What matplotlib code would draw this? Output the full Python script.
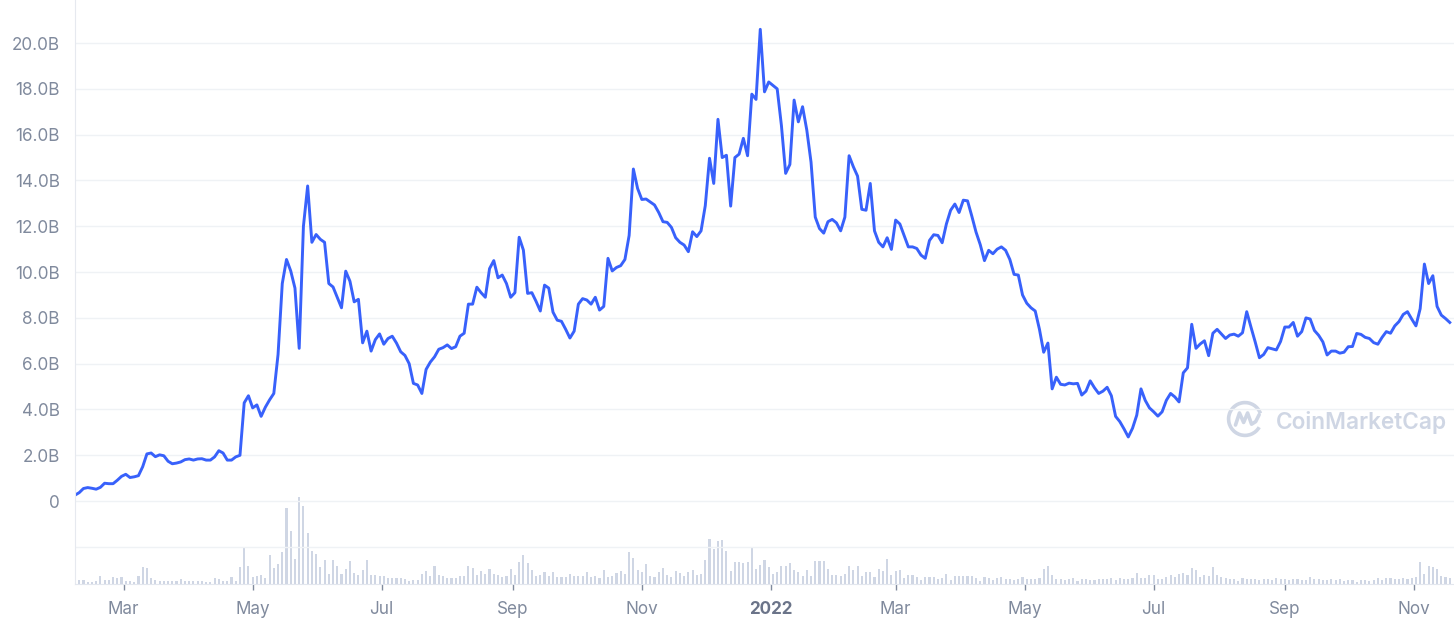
import numpy as np
import pandas as pd
import matplotlib
matplotlib.use("Agg")
import matplotlib.pyplot as plt
from matplotlib.patches import Arc

# market cap in billions USD, one value every 2 days from 2021-02-06
start_date = "2021-02-06"
market_cap = [
    0.26, 0.37, 0.55, 0.59, 0.56, 0.52, 0.60, 0.78, 0.76, 0.76,
    0.91, 1.08, 1.17, 1.03, 1.06, 1.11, 1.50, 2.06, 2.10, 1.94,
    2.02, 1.98, 1.74, 1.63, 1.66, 1.71, 1.81, 1.84, 1.79, 1.84,
    1.85, 1.79, 1.79, 1.93, 2.20, 2.10, 1.79, 1.79, 1.93, 2.00,
    4.29, 4.60, 4.07, 4.20, 3.70, 4.10, 4.42, 4.70, 6.40, 9.50,
    10.55, 10.05, 9.30, 6.67, 12.00, 13.76, 11.30, 11.64, 11.43, 11.30,
    9.50, 9.35, 8.90, 8.44, 10.04, 9.60, 8.70, 8.81, 6.91, 7.42,
    6.55, 7.05, 7.30, 6.85, 7.10, 7.20, 6.90, 6.52, 6.36, 6.00,
    5.14, 5.07, 4.70, 5.75, 6.07, 6.30, 6.63, 6.70, 6.82, 6.66,
    6.74, 7.20, 7.33, 8.60, 8.60, 9.34, 9.10, 8.90, 10.15, 10.50,
    9.75, 9.87, 9.50, 8.90, 9.10, 11.52, 10.96, 9.07, 9.10, 8.72,
    8.30, 9.43, 9.30, 8.25, 7.90, 7.85, 7.50, 7.12, 7.42, 8.60,
    8.84, 8.78, 8.60, 8.90, 8.34, 8.50, 10.60, 10.05, 10.20, 10.28,
    10.55, 11.60, 14.50, 13.65, 13.17, 13.19, 13.06, 12.93, 12.60, 12.20,
    12.17, 11.95, 11.50, 11.30, 11.18, 10.89, 11.76, 11.55, 11.80, 12.90,
    14.97, 13.87, 16.67, 15.00, 15.10, 12.88, 15.00, 15.15, 15.84, 15.08,
    17.77, 17.54, 20.60, 17.87, 18.30, 18.15, 18.00, 16.40, 14.31, 14.70,
    17.51, 16.56, 17.22, 16.20, 14.80, 12.40, 11.90, 11.70, 12.20, 12.30,
    12.15, 11.80, 12.40, 15.08, 14.60, 14.19, 12.74, 12.70, 13.87, 11.80,
    11.30, 11.10, 11.50, 10.99, 12.27, 12.10, 11.60, 11.10, 11.10, 11.03,
    10.74, 10.60, 11.38, 11.63, 11.60, 11.28, 12.10, 12.70, 12.97, 12.60,
    13.14, 13.11, 12.45, 11.75, 11.20, 10.50, 10.95, 10.80, 11.00, 11.10,
    10.95, 10.55, 9.90, 9.87, 9.00, 8.64, 8.44, 8.30, 7.50, 6.50,
    6.90, 4.90, 5.41, 5.10, 5.07, 5.15, 5.12, 5.14, 4.63, 4.80,
    5.25, 4.95, 4.70, 4.80, 4.97, 4.60, 3.70, 3.47, 3.15, 2.80,
    3.18, 3.75, 4.90, 4.40, 4.07, 3.90, 3.71, 3.90, 4.40, 4.70,
    4.55, 4.33, 5.60, 5.82, 7.72, 6.67, 6.86, 7.00, 6.35, 7.33,
    7.50, 7.30, 7.10, 7.25, 7.29, 7.20, 7.35, 8.27, 7.60, 6.95,
    6.26, 6.40, 6.70, 6.65, 6.60, 6.97, 7.60, 7.60, 7.80, 7.20,
    7.40, 8.00, 7.95, 7.45, 7.24, 6.95, 6.38, 6.55, 6.55, 6.46,
    6.50, 6.74, 6.75, 7.32, 7.28, 7.15, 7.10, 6.92, 6.85, 7.15,
    7.40, 7.33, 7.65, 7.84, 8.15, 8.27, 7.95, 7.65, 8.40, 10.35,
    9.50, 9.84, 8.50, 8.12, 7.97, 7.80,
]

# 24h volume, relative units, same dates
volume = [
    2.7, 3.7, 3.7, 2, 2, 3, 8.3, 3.7, 4.3, 7,
    6.3, 7.3, 3, 2.7, 2.3, 7.7, 17, 16, 6, 4.3,
    3.3, 3.3, 3.3, 3, 3, 5.3, 3, 3, 3, 3.3,
    3, 2.3, 2.3, 6, 5, 3.3, 3.3, 7, 2.7, 17,
    37, 18, 7.3, 8.3, 9, 6, 28.7, 16.3, 20.3, 32,
    76, 53, 25, 87, 78, 51, 33, 30, 17, 24,
    10, 24, 18, 10, 15, 23, 11, 9, 14, 24,
    9, 8.7, 7.7, 8, 5.7, 5.7, 5.7, 6, 5.3, 3.3,
    4, 4, 10.3, 13.3, 7.7, 18.3, 9.3, 7.7, 6.3, 6,
    6, 7.7, 8.3, 17.7, 16, 9.3, 12.7, 10, 15, 10,
    9.3, 7, 8.3, 15.3, 9.3, 22, 28.7, 21, 14.3, 8.3,
    9.3, 12, 8.3, 12, 7, 7, 7, 10, 8.3, 8.3,
    8.3, 12, 7, 7.7, 6, 13.7, 7.3, 8.3, 11, 12.7,
    10, 32.3, 26, 14, 12.3, 20, 7.7, 6.7, 12.3, 16,
    9, 6.7, 12.7, 11, 8, 11.7, 14.3, 9.3, 10.3, 24.3,
    45, 35.3, 42.7, 44, 33.3, 13.3, 22.3, 22.3, 21, 22.3,
    36.3, 15, 19, 24.3, 16.7, 10, 12.3, 17.7, 18.3, 21,
    13.7, 12.3, 7.7, 14.3, 8.3, 23.3, 23.3, 22.7, 15, 9.3,
    9.3, 8.3, 9.7, 17.7, 14.3, 17.7, 7.7, 12, 11.7, 7,
    15, 12.7, 25.3, 9, 13.3, 13.7, 5.7, 9.3, 9.3, 7,
    4.3, 6.7, 6.7, 6.7, 5.3, 6, 9.7, 4.3, 8.3, 8.3,
    7.7, 7.7, 7.7, 5.7, 3.3, 7, 5.7, 3.7, 5.7, 6.7,
    5, 5, 4, 5, 7, 5, 5, 5, 6, 15,
    18, 9, 5, 5, 4, 5, 6, 3, 5, 5,
    4, 4, 4.5, 5, 5, 6, 4, 6, 4.5, 5,
    6, 11, 6, 6, 9, 9, 4.5, 5, 7, 9,
    7, 10, 11, 9, 16, 14, 7, 8.5, 8, 17,
    9, 7, 6, 4.5, 5.3, 3, 5.7, 5.3, 5, 5,
    4, 5, 4.5, 3.5, 5.7, 5, 4.5, 4, 4.5, 4.5,
    4, 3.5, 7, 5, 4.5, 4, 4, 4.5, 4, 4.5,
    3.3, 4.3, 3.7, 2.3, 3.7, 3.7, 3, 4.3, 6, 4.3,
    5.7, 5.7, 5, 5, 5.7, 5, 6, 7, 21.7, 10,
    17.7, 16.7, 15, 8, 6.7, 5.5,
]

tick_dates = ["2021-03-01", "2021-05-01", "2021-07-01", "2021-09-01", "2021-11-01",
              "2022-01-01", "2022-03-01", "2022-05-01", "2022-07-01", "2022-09-01",
              "2022-11-01"]
tick_labels = ["Mar", "May", "Jul", "Sep", "Nov", "2022", "Mar", "May", "Jul", "Sep", "Nov"]

y_ticks = [-2, 0, 2, 4, 6, 8, 10, 12, 14, 16, 18, 20]
y_labels = ["", "0", "2.0B", "4.0B", "6.0B", "8.0B", "10.0B", "12.0B", "14.0B",
            "16.0B", "18.0B", "20.0B"]

dates = pd.date_range(start_date, periods=len(market_cap), freq="2D")

plt.rcParams["font.family"] = ["Inter", "DejaVu Sans"]
LINE = "#3861fb"
GREY = "#808a9d"
GRID = "#eff2f5"
BAR = "#cfd6e4"

W, H = 1454, 626
fig = plt.figure(figsize=(W / 100, H / 100), dpi=100)
ax = fig.add_axes([75 / W, 42 / H, 1 - 75 / W, 1 - 42 / H])
ax2 = ax.twinx()

# volume bars behind the line
ax2.bar(dates, volume, width=1.0, color=BAR, linewidth=0)
ax2.set_ylim(0, max(volume) * 6.7)
ax2.set_yticks([])
for s in ax2.spines.values():
    s.set_visible(False)

ax.set_zorder(ax2.get_zorder() + 1)
ax.patch.set_visible(False)

ax.plot(dates, market_cap, color=LINE, lw=2.1, solid_joinstyle="round")

ax.set_ylim(-3.62, 21.88)
ax.set_xlim(pd.Timestamp(start_date), pd.Timestamp(start_date) + pd.Timedelta(days=652))
ax.set_yticks(y_ticks)
ax.set_yticklabels(y_labels)
ax.grid(axis="y", color=GRID, lw=1)
ax.tick_params(axis="y", length=0, pad=11, labelsize=12.3, labelcolor=GREY)

ax.set_xticks(pd.to_datetime(tick_dates))
ax.set_xticklabels(tick_labels)
ax.tick_params(axis="x", length=4, width=1, color=GREY, pad=8, labelsize=12.3,
               labelcolor=GREY)
for lab in ax.get_xticklabels():
    if lab.get_text() == "2022":
        lab.set_fontweight("bold")
        lab.set_color("#6b7489")

for side in ["top", "right"]:
    ax.spines[side].set_visible(False)
ax.spines["left"].set_color("#e6e9ef")
ax.spines["bottom"].set_color("#e3e7ee")

# watermark
logo = fig.add_axes([(1245 - 19) / W, 1 - (419 + 19) / H, 38 / W, 38 / H])
logo.set_xlim(-1.1, 1.1)
logo.set_ylim(-1.1, 1.1)
logo.axis("off")
logo.add_patch(Arc((0, 0), 1.9, 1.9, theta1=20, theta2=330, color=BAR, lw=2.6))
logo.plot([-0.55, -0.32, -0.08, 0.15, 0.38, 0.62, 0.82],
          [-0.35, 0.35, -0.2, 0.35, -0.3, -0.15, 0.25],
          color=BAR, lw=2.6, solid_joinstyle="round", solid_capstyle="round")
fig.text(1276 / W, 1 - 429 / H, "CoinMarketCap", fontsize=16.3, fontweight="semibold",
         color=BAR, ha="left", va="baseline")

fig.savefig("out.png", dpi=100)
